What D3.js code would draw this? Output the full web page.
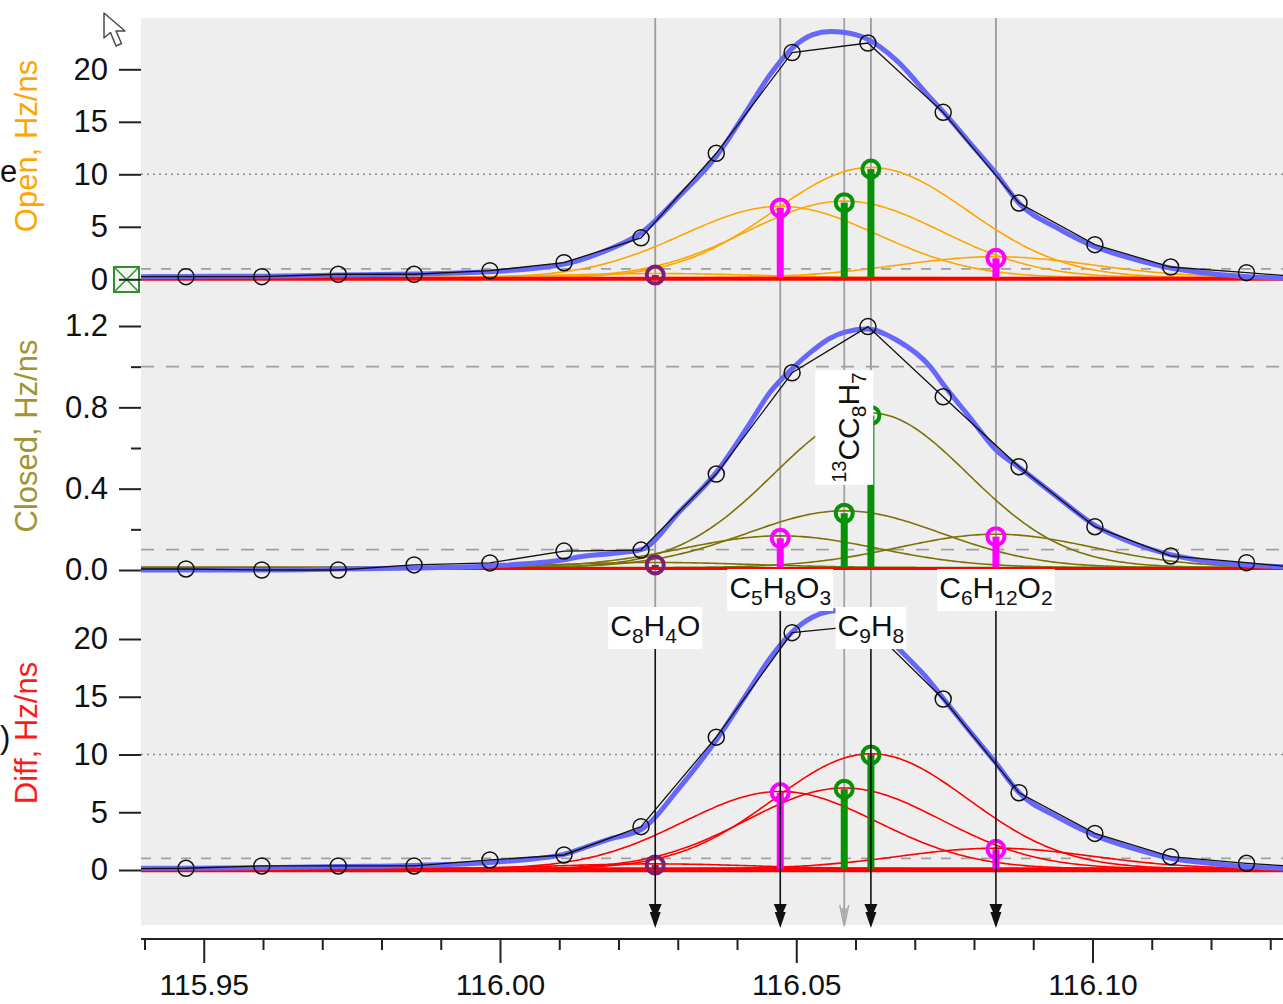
<!DOCTYPE html>
<html><head><meta charset="utf-8">
<script src="https://cdn.jsdelivr.net/npm/d3@7"></script>
<style>
html,body{margin:0;padding:0;background:#fff;overflow:hidden;}
svg{display:block;font-family:"Liberation Sans",Arial,sans-serif;}
</style></head><body>
<svg id="chart" width="1283" height="1004"></svg>
<script>
// ---------- data ----------
const dataMz = [115.9342,115.9470,115.9598,115.9727,115.9855,115.9983,116.0108,116.0238,116.0365,116.0493,116.0621,116.0748,116.0876,116.1004,116.1132,116.1260,116.1389];
const openData   = [0.25,0.25,0.25,0.48,0.48,0.82,1.58,3.95,12.0,21.6,22.5,15.9,7.27,3.3,1.17,0.63,0.1];
const closedData = [0.005,0.005,0.0,0.0,0.025,0.035,0.093,0.098,0.472,0.97,1.197,0.852,0.508,0.213,0.069,0.036,0.0];
const diffData   = [0.1,0.15,0.35,0.35,0.35,0.87,1.3,3.75,11.5,20.55,21.2,14.8,6.69,3.17,1.15,0.58,0.15];

const fitMz = [115.9394,115.9470,115.9598,115.9727,115.9855,115.9983,116.0108,116.0135,116.0186,116.0238,116.0304,116.0365,116.0417,116.0456,116.0493,116.0528,116.0557,116.0582,116.0619,116.0670,116.0726,116.0749,116.0793,116.0837,116.0876,116.0940,116.1004,116.1068,116.1134,116.1198,116.1262,116.1322];
const openFit   = [0.25,0.27,0.3,0.4,0.5,0.72,1.45,1.84,2.9,4.4,8.0,11.7,16.1,19.5,22.0,23.3,23.6,23.5,22.9,20.8,17.3,15.9,13.0,10.1,7.24,4.9,3.1,1.95,1.05,0.55,0.25,0.12];
const closedFit = [0.0,0.0,0.0,0.005,0.01,0.02,0.05,0.065,0.08,0.10,0.29,0.48,0.70,0.875,0.99,1.08,1.14,1.17,1.185,1.13,1.0,0.91,0.75,0.59,0.505,0.36,0.22,0.133,0.074,0.041,0.025,0.016];
const diffFit   = [0.15,0.15,0.2,0.3,0.4,0.65,1.35,1.8,2.7,3.5,7.2,11.25,15.3,18.35,20.6,21.9,22.4,22.5,22.0,19.3,16.3,14.8,12.0,9.26,6.7,4.6,3.0,1.88,1.0,0.58,0.29,0.15];

const peakNames = ["C8H4O","C5H8O3","13CC8H7","C9H8","C6H12O2"];
const peakMz    = [116.0262,116.0473,116.0581,116.0626,116.0837];
const openPeaks   = [0.4,6.8,7.3,10.5,2.0];
const closedPeaks = [0.025,0.156,0.279,0.76,0.164];
const diffPeaks   = [0.43,6.7,7.0,9.96,1.79];
const peakSigma = 0.01637;
const baselines = [0.15,0.012,0.1];

const openTicks = [0,5,10,15,20];
const closedTicks = [0,0.4,0.8,1.2];
const closedMinorTicks = [0.2,0.6,1.0];
const diffTicks = [0,5,10,15,20];
const openDotted = [10], openDashed = [1];
const closedDotted = [], closedDashed = [1,0.1];
const diffDotted = [10], diffDashed = [1];
const xMajorTicks = [115.95,116.00,116.05,116.10];
const xMinorTicks = [115.94,115.96,115.97,115.98,115.99,116.01,116.02,116.03,116.04,116.06,116.07,116.08,116.09,116.11,116.12,116.13];

// ---------- layout ----------
const svg = d3.select('#chart');
const FONT = '"Liberation Sans",Arial,sans-serif';
const L = 141, R = 1283;
const x = d3.scaleLinear().domain([115.94,116.13]).range([144.5,1270.25]);

svg.append('rect').attr('x',L).attr('y',18).attr('width',R-L).attr('height',925-18).attr('fill','#eeeeee');

const peakColors = ['#7f1f73','#ff00ff','#079107','#079107','#ff00ff'];

const panels = [
  {data:openData, fit:openFit, peaks:openPeaks, base:baselines[0],
   y:d3.scaleLinear().domain([0,20]).range([279.3,69.3]), clip:[18,292], comp:'#ffa500',
   ticks:openTicks, minor:[], fmt:d3.format('d'), dotted:openDotted, dashed:openDashed, dash:'10,10',
   title:'Open, Hz/ns', titleColor:'#ffa500', titleY:146, redW:4},
  {data:closedData, fit:closedFit, peaks:closedPeaks, base:baselines[1],
   y:d3.scaleLinear().domain([0,1.2]).range([570,326]), clip:[292,594], comp:'#7d7206',
   ticks:closedTicks, minor:closedMinorTicks, fmt:d3.format('.1f'), dotted:closedDotted, dashed:closedDashed, dash:'13,12',
   title:'Closed, Hz/ns', titleColor:'#a39332', titleY:436, redW:3},
  {data:diffData, fit:diffFit, peaks:diffPeaks, base:baselines[2],
   y:d3.scaleLinear().domain([0,20]).range([870,639]), clip:[598,925], comp:'#ff0000',
   ticks:diffTicks, minor:[], fmt:d3.format('d'), dotted:diffDotted, dashed:diffDashed, dash:'10,10',
   title:'Diff, Hz/ns', titleColor:'#ff1a1a', titleY:733, redW:5}
];

const defs = svg.append('defs');
panels.forEach((p,i)=>{
  defs.append('clipPath').attr('id','clip'+i).append('rect')
    .attr('x',L).attr('y',p.clip[0]).attr('width',R-L).attr('height',p.clip[1]-p.clip[0]);
});

// reference lines
panels.forEach((p,i)=>{
  const g = svg.append('g').attr('clip-path',`url(#clip${i})`);
  p.dotted.forEach(v=>g.append('line').attr('x1',L).attr('x2',R).attr('y1',p.y(v)).attr('y2',p.y(v))
     .attr('stroke','#8a8a8a').attr('stroke-width',1.5).attr('stroke-dasharray','2,4'));
  p.dashed.forEach(v=>g.append('line').attr('x1',L).attr('x2',R).attr('y1',p.y(v)).attr('y2',p.y(v))
     .attr('stroke','#a0a0a0').attr('stroke-width',1.8).attr('stroke-dasharray',p.dash));
});

const lineLayer = svg.append('g');
const labelLayer = svg.append('g');

// ---------- panels content ----------
const gridMz = d3.range(115.93, 116.14, 0.0005);
panels.forEach((p,i)=>{
  const g = svg.append('g').attr('clip-path',`url(#clip${i})`);
  // component peaks
  peakMz.forEach((c,k)=>{
    const h = p.peaks[k];
    const line = d3.line().x(m=>x(m)).y(m=>p.y(p.base + h*Math.exp(-((m-c)*(m-c))/(2*peakSigma*peakSigma))));
    g.append('path').attr('d',line(gridMz)).attr('fill','none').attr('stroke',p.comp).attr('stroke-width',1.6);
  });
  // red baseline
  g.append('line').attr('x1',L).attr('x2',R).attr('y1',p.y(p.base)+1).attr('y2',p.y(p.base)+1)
    .attr('stroke','#ff0000').attr('stroke-width',p.redW);
  // fitted sum
  const fitLine = d3.line().x((d,j)=>x(fitMz[j])).y(d=>p.y(d)).curve(d3.curveMonotoneX);
  g.append('path').attr('d',fitLine(p.fit)).attr('fill','none').attr('stroke','#6767fb').attr('stroke-width',5).attr('stroke-linejoin','round');
  // measured data
  const dataLine = d3.line().x((d,j)=>x(dataMz[j])).y(d=>p.y(d));
  g.append('path').attr('d',dataLine(p.data)).attr('fill','none').attr('stroke','#111').attr('stroke-width',1.3);
  g.selectAll('circle.pt').data(p.data).join('circle').attr('class','pt')
    .attr('cx',(d,j)=>x(dataMz[j])).attr('cy',d=>p.y(d)).attr('r',8)
    .attr('fill','none').attr('stroke','#111').attr('stroke-width',1.5);
  // stems
  peakMz.forEach((c,k)=>{
    const h = p.peaks[k];
    g.append('line').attr('x1',x(c)).attr('x2',x(c)).attr('y1',p.y(p.base)).attr('y2',p.y(h))
      .attr('stroke',peakColors[k]).attr('stroke-width',7);
    g.append('circle').attr('cx',x(c)).attr('cy',p.y(h)).attr('r',8.5)
      .attr('fill','none').attr('stroke',peakColors[k]).attr('stroke-width',4);
  });
});
// vertical marker lines sit under the curves
svg.node().insertBefore(lineLayer.node(), svg.node().children[2]);

// ---------- labels ----------
function addFormula(t, name){
  const parts = name.match(/\d+|[A-Za-z]+/g);
  let shift = 0;
  parts.forEach((s,i)=>{
    let target = 0, size = 30;
    if (/^\d/.test(s)) { if (i===0){target=-13; size=20;} else {target=7; size=21;} }
    t.append('tspan').attr('dy',target-shift).attr('font-size',size).text(s);
    shift = target;
  });
}
const labelSpec = [{row:636},{row:598},{rot:true},{row:636},{row:598}];
const boxes = [];
peakNames.forEach((name,k)=>{
  const spec = labelSpec[k];
  const cx = x(peakMz[k]);
  if (spec.rot){
    const g = labelLayer.append('g').attr('transform',`translate(${cx+15},427.5) rotate(-90)`);
    const rect = g.append('rect').attr('fill','#fff');
    const t = g.append('text').attr('text-anchor','middle').attr('fill','#111').attr('font-family',FONT);
    addFormula(t,name);
    const bb = t.node().getBBox();
    rect.attr('x',bb.x-2).attr('width',bb.width+4).attr('y',-44).attr('height',58);
    boxes.push({rot:true});
  } else {
    const g = labelLayer.append('g');
    const rect = g.append('rect').attr('fill','#fff');
    const t = g.append('text').attr('x',cx).attr('y',spec.row).attr('text-anchor','middle').attr('fill','#111').attr('font-family',FONT);
    addFormula(t,name);
    const bb = t.node().getBBox();
    rect.attr('x',bb.x-2).attr('width',bb.width+4).attr('y',spec.row-29).attr('height',42);
    boxes.push({top:spec.row-29, bottom:spec.row+13});
  }
});

// vertical marker lines and arrows
const arrowLayer = svg.append('g');
peakMz.forEach((c,k)=>{
  const xx = x(c), b = boxes[k];
  if (b.rot){
    lineLayer.append('line').attr('x1',xx).attr('x2',xx).attr('y1',18).attr('y2',925)
      .attr('stroke','#a2a2a2').attr('stroke-width',1.8);
    arrowLayer.append('path').attr('d',`M${xx-4.5},905 L${xx},926 L${xx+4.5},905 M${xx-2},908 L${xx},918 L${xx+2},908`)
      .attr('fill','none').attr('stroke','#aaa').attr('stroke-width',1.5);
  } else {
    lineLayer.append('line').attr('x1',xx).attr('x2',xx).attr('y1',18).attr('y2',b.top)
      .attr('stroke','#9c9c9c').attr('stroke-width',1.8);
    arrowLayer.append('line').attr('x1',xx).attr('x2',xx).attr('y1',b.bottom).attr('y2',912)
      .attr('stroke','#111').attr('stroke-width',1.6);
    arrowLayer.append('path').attr('d',`M${xx-6.5},904 L${xx+6.5},904 L${xx+3},912 L${xx+5.5},912 L${xx},928 L${xx-5.5},912 L${xx-3},912 Z`)
      .attr('fill','#111');
  }
});
svg.node().appendChild(labelLayer.node());

// ---------- axes ----------
const green = svg.append('g');
green.append('rect').attr('x',114).attr('y',267).attr('width',25).attr('height',25)
  .attr('fill','#f2f6f2').attr('stroke','#2f8f2f').attr('stroke-width',2);
green.append('path').attr('d','M114,267 L139,292 M139,267 L114,292').attr('stroke','#2f8f2f').attr('stroke-width',1.5);

panels.forEach(p=>{
  const ax = svg.append('g').attr('transform',`translate(${L},0)`)
    .call(d3.axisLeft(p.y).tickValues(p.ticks).tickSize(22).tickPadding(11).tickFormat(p.fmt));
  ax.select('.domain').remove();
  ax.selectAll('line').attr('stroke','#222').attr('stroke-width',2);
  ax.selectAll('text').attr('font-size',31).attr('fill','#111').attr('font-family',FONT);
  if (p.minor.length){
    const mx = svg.append('g').attr('transform',`translate(${L},0)`)
      .call(d3.axisLeft(p.y).tickValues(p.minor).tickSize(10).tickFormat(''));
    mx.select('.domain').remove();
    mx.selectAll('line').attr('stroke','#222').attr('stroke-width',2);
  }
  svg.append('text').attr('transform',`translate(37,${p.titleY}) rotate(-90)`)
    .attr('text-anchor','middle').attr('font-size',31).attr('fill',p.titleColor).attr('font-family',FONT).text(p.title);
});

svg.append('line').attr('x1',L).attr('x2',R).attr('y1',939).attr('y2',939).attr('stroke','#222').attr('stroke-width',2);
const xMaj = svg.append('g').attr('transform','translate(0,939)')
  .call(d3.axisBottom(x).tickValues(xMajorTicks).tickSize(24).tickPadding(11).tickFormat(d3.format('.2f')));
xMaj.select('.domain').remove();
xMaj.selectAll('line').attr('stroke','#222').attr('stroke-width',2);
xMaj.selectAll('text').attr('font-size',30).attr('fill','#111').attr('font-family',FONT);
const xMin = svg.append('g').attr('transform','translate(0,939)')
  .call(d3.axisBottom(x).tickValues(xMinorTicks).tickSize(11).tickFormat(''));
xMin.select('.domain').remove();
xMin.selectAll('line').attr('stroke','#222').attr('stroke-width',2);

// stray text at left edge and mouse cursor
svg.append('text').attr('x',0).attr('y',182).attr('font-size',31).attr('fill','#111').attr('font-family',FONT).text('e');
svg.append('text').attr('x',0).attr('y',748).attr('font-size',31).attr('fill','#111').attr('font-family',FONT).text(')');
svg.append('path').attr('d','M104,13 L104,38 L110.5,32.5 L116,46 L121.5,43.5 L116,31 L125,31 Z')
  .attr('fill','#fff').attr('stroke','#4a4a55').attr('stroke-width',1.5).attr('stroke-linejoin','round');
</script>
</body></html>
